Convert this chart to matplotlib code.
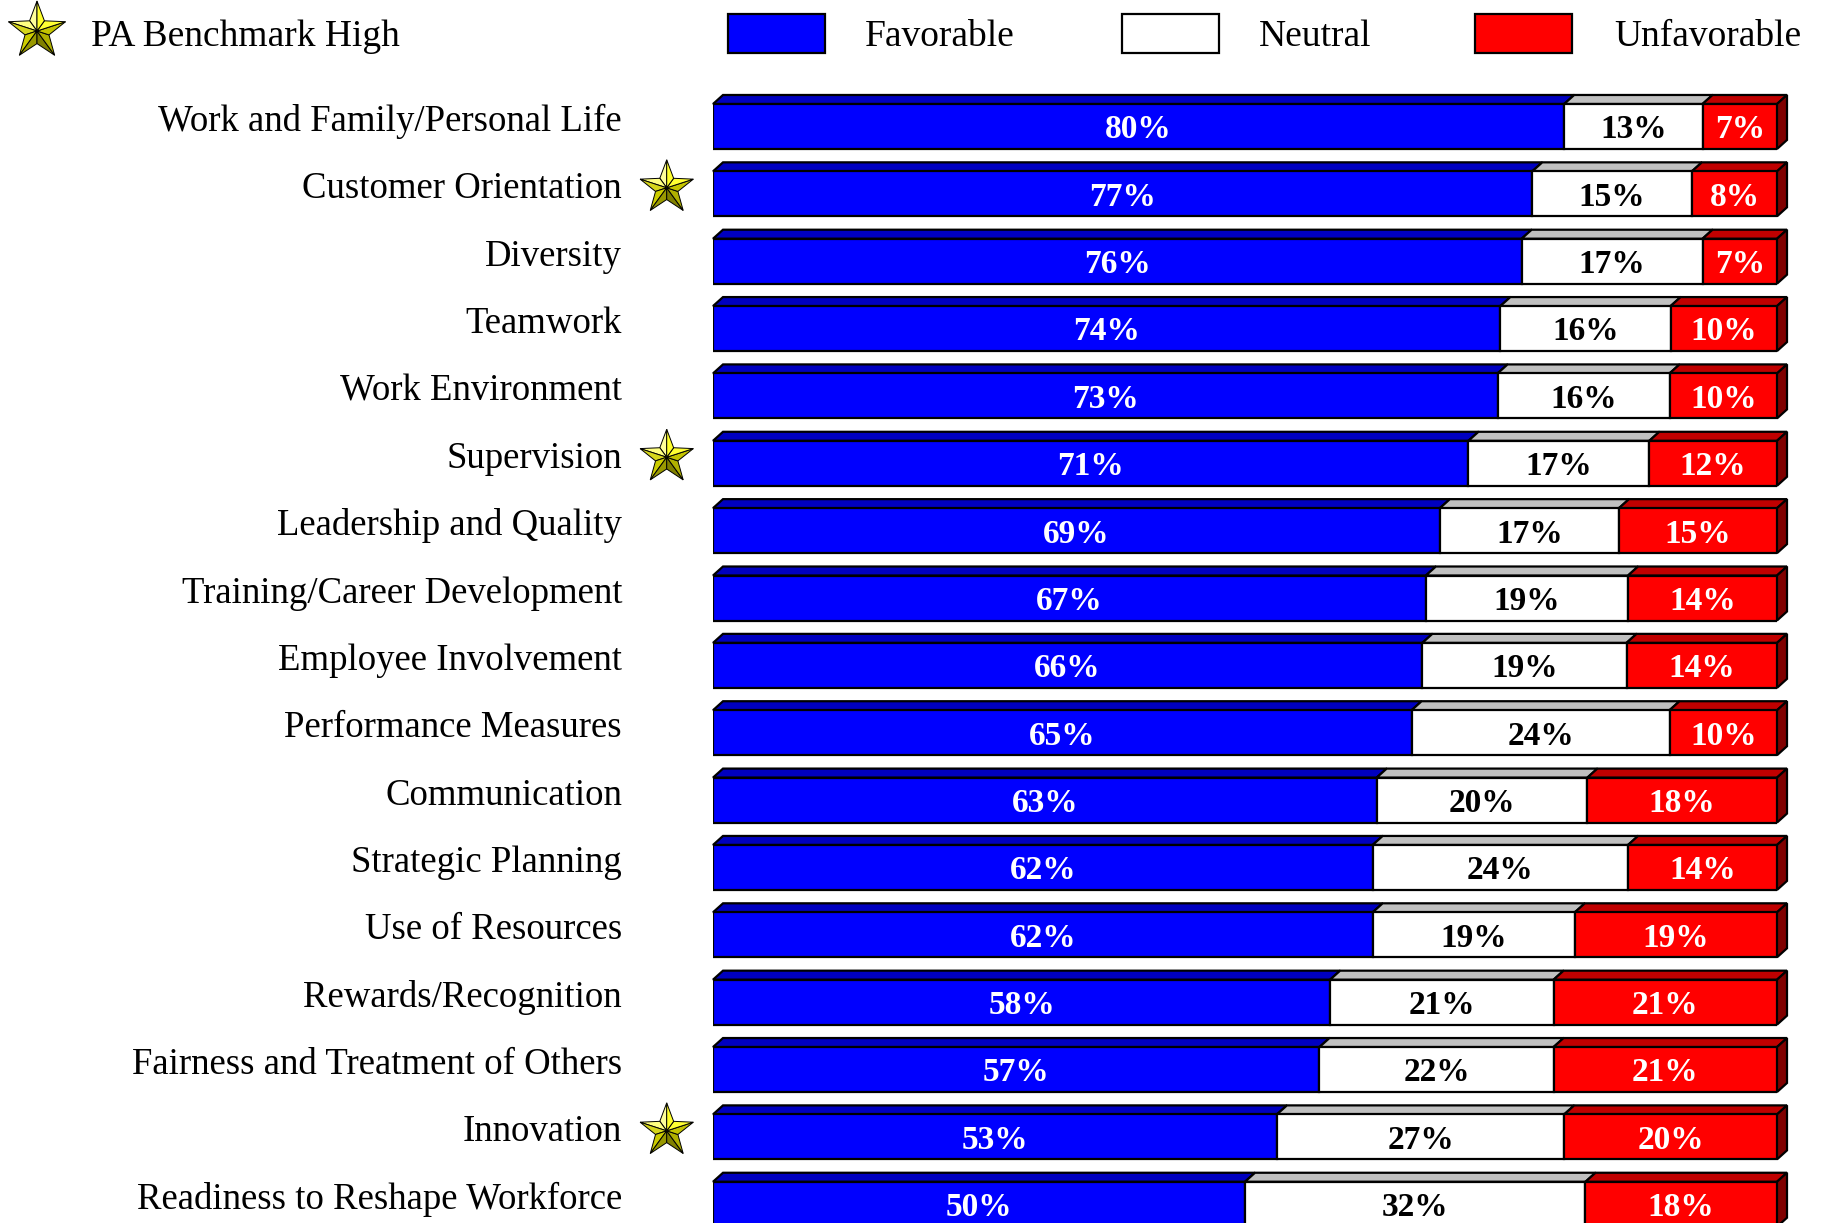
import numpy as np
import matplotlib
matplotlib.use("Agg")
import matplotlib.pyplot as plt
import matplotlib.transforms as mtransforms
from matplotlib.patches import Polygon, Rectangle

# survey results, top to bottom
categories = [
    "Work and Family/Personal Life", "Customer Orientation", "Diversity",
    "Teamwork", "Work Environment", "Supervision", "Leadership and Quality",
    "Training/Career Development", "Employee Involvement",
    "Performance Measures", "Communication", "Strategic Planning",
    "Use of Resources", "Rewards/Recognition",
    "Fairness and Treatment of Others", "Innovation",
    "Readiness to Reshape Workforce",
]
favorable = [80, 77, 76, 74, 73, 71, 69, 67, 66, 65, 63, 62, 62, 58, 57, 53, 50]
neutral = [13, 15, 17, 16, 16, 17, 17, 19, 19, 24, 20, 24, 19, 21, 22, 27, 32]
unfavorable = [7, 8, 7, 10, 10, 12, 15, 14, 14, 10, 18, 14, 19, 21, 21, 20, 18]
benchmark_high = ["Customer Orientation", "Supervision", "Innovation"]

series_names = ["Favorable", "Neutral", "Unfavorable"]
front_colors = ["#0000FF", "#FFFFFF", "#FF0000"]
top_colors = ["#0000C0", "#C0C0C0", "#C00000"]
side_color = "#800000"
text_colors = ["white", "black", "white"]

# facet shades of the bevelled star, counter-clockwise from the top arm
star_facets = ["#FFFF99", "#FFFF80", "#D6D61C", "#CCCC00", "#999900",
               "#808000", "#B0B000", "#C4C400", "#FFFF33", "#FFFF2A"]

W, H = 1823, 1223
plt.rcParams["font.family"] = ["Liberation Serif", "DejaVu Serif"]

fig = plt.figure(figsize=(W / 100, H / 100), dpi=100)
ax = fig.add_axes([713 / W, 0, 1064 / W, 1])
ax.set_xlim(0, 100)
ax.set_ylim(16.278, -1.878)
ax.axis("off")

BAR_H = 0.668
DX, DY = 0.94, 0.134   # depth of the 3D faces in data units
LW = 1.6


def draw_star(target, trans, radius):
    n = 5
    ang = np.pi / 2 + np.arange(2 * n) * np.pi / n
    rad = np.where(np.arange(2 * n) % 2 == 0, 1.0, 0.42)
    pts = np.c_[rad * np.cos(ang), rad * np.sin(ang)]
    tr = mtransforms.Affine2D().scale(radius) + trans
    for i in range(2 * n):
        a, b = pts[i], pts[(i + 1) % (2 * n)]
        tri = Polygon([(0, 0), a, b], closed=True, transform=tr,
                      facecolor=star_facets[i], edgecolor="black",
                      linewidth=0.7, clip_on=False)
        target.add_artist(tri)


for i, cat in enumerate(categories):
    vals = np.array([favorable[i], neutral[i], unfavorable[i]], dtype=float)
    widths = vals / vals.sum() * 100
    lefts = np.concatenate([[0], np.cumsum(widths)[:-1]])
    top = i - BAR_H / 2
    bottom = i + BAR_H / 2

    ax.barh(i, widths, left=lefts, height=BAR_H, color=front_colors,
            edgecolor="black", linewidth=LW, zorder=3)

    for k in range(3):
        l, r = lefts[k], lefts[k] + widths[k]
        ax.add_patch(Polygon([(l, top), (l + DX, top - DY), (r + DX, top - DY), (r, top)],
                             closed=True, facecolor=top_colors[k],
                             edgecolor="black", linewidth=LW, zorder=2,
                             clip_on=False))
        ax.text(l + widths[k] / 2, i + 0.05, f"{int(vals[k])}%",
                ha="center", va="center", fontsize=24, fontweight="bold",
                color=text_colors[k], zorder=4)

    end = lefts[-1] + widths[-1]
    ax.add_patch(Polygon([(end, top), (end + DX, top - DY), (end + DX, bottom - DY), (end, bottom)],
                         closed=True, facecolor=side_color, edgecolor="black",
                         linewidth=LW, zorder=2, clip_on=False))

    ax.text(-0.0855, i - 0.07, cat, transform=ax.get_yaxis_transform(),
            ha="right", va="center", fontsize=26.5)

    if cat in benchmark_high:
        draw_star(ax, mtransforms.ScaledTranslation(
            -0.0435, i - 0.09, ax.get_yaxis_transform()), 28)

# legend across the top
lg = fig.add_axes([0, 0, 1, 1], zorder=5)
lg.set_xlim(0, W)
lg.set_ylim(H, 0)
lg.axis("off")
draw_star(lg, mtransforms.ScaledTranslation(37, 31, lg.transData), 30)
lg.text(91, 37, "PA Benchmark High", ha="left", va="center", fontsize=27)

box_x = [728, 1122, 1475]
text_x = [865, 1259, 1614]
for k in range(3):
    lg.add_patch(Rectangle((box_x[k], 14), 97, 39, facecolor=front_colors[k],
                           edgecolor="black", linewidth=LW))
    lg.text(text_x[k], 37, series_names[k], ha="left", va="center", fontsize=27)

fig.savefig("out.png", dpi=100)
